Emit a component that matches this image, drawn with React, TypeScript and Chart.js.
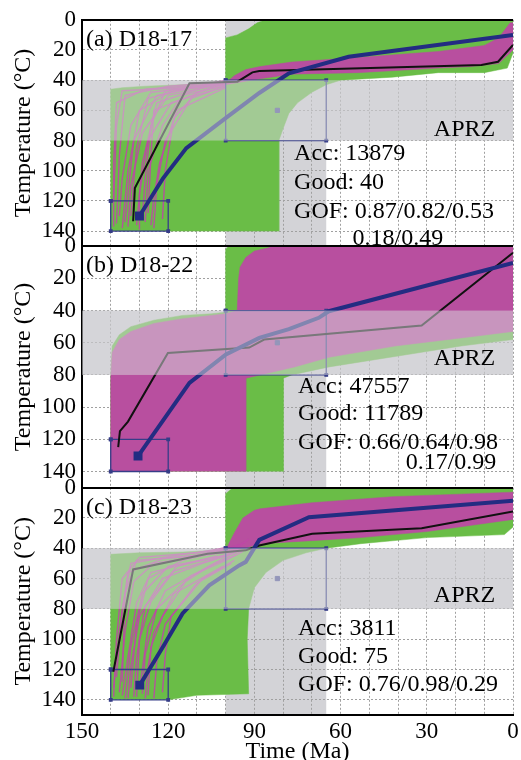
import React, { useEffect, useRef } from 'react';
import { Chart, registerables } from 'chart.js';
Chart.register(...registerables);

type P = [number, number];

// ---- axes / reference values ----
const timeLabels = [150, 120, 90, 60, 30, 0];
const timeGrid = [0, 10, 20, 30, 40, 50, 60, 70, 80, 90, 100, 110, 120, 130, 140, 150];
const tempLabels = [0, 20, 40, 60, 80, 100, 120, 140];
const aprzBand = [40, 80];
const timeWindow = [100, 65];

// ---- constraint boxes ----
const boxLow: P[] = [[140, 120], [120, 120], [120, 140], [140, 140], [140, 120]];
const boxMid: P[] = [[100, 40], [65, 40], [65, 80], [100, 80], [100, 40]];
const boxMidCenter: P[] = [[82, 60]];

// ---- panel (a) D18-17 ----
const greenA: P[] = [[140, 140], [140, 46], [136, 45], [128, 44], [115, 43], [104, 42], [100, 41], [100, 12], [96, 10], [92, 6], [89, 2], [86, 0], [0, 0], [0, 22], [2, 32], [10, 35], [26, 35], [42, 38], [60, 40], [65, 43], [70, 48], [75, 55], [78, 62], [80, 72], [81.5, 80], [81.5, 140], [120, 140]];
const magentaA: P[] = [[100, 42], [97, 37], [93, 33], [88, 31], [77, 28], [54, 25], [26, 21], [10, 17], [5, 12], [1, 2], [0, 2], [0, 20], [5, 29], [15, 31], [26, 32], [54, 35], [77, 36], [88, 39], [100, 43]];
const goodPathsA: P[][] = [
  [[138, 135], [137, 90], [135, 50], [120, 44], [100, 41]],
  [[136, 138], [134, 100], [130, 60], [118, 46], [100, 42]],
  [[133, 130], [131, 85], [127, 52], [110, 44], [100, 40]],
  [[131, 136], [129, 95], [124, 55], [108, 45], [100, 41]],
  [[128, 134], [127, 100], [122, 70], [115, 50], [100, 43]],
  [[125, 138], [124, 110], [121, 80], [112, 52], [100, 44]],
  [[139, 120], [138, 70], [136, 47], [115, 45], [100, 42]],
  [[127, 128], [126, 90], [125, 60], [105, 45], [100, 41]],
  [[134, 137], [133, 110], [129, 75], [120, 50], [100, 42]],
  [[122, 132], [121, 100], [118, 65], [110, 48], [100, 43]],
  [[137, 130], [136, 105], [133, 70], [126, 48], [100, 43]],
  [[130, 139], [130, 115], [127, 80], [119, 55], [100, 44]],
  [[139, 137], [139, 95], [138, 55], [128, 46], [100, 42]],
  [[135, 134], [134, 115], [132, 80], [124, 50], [100, 41]],
  [[129, 131], [128, 105], [126, 70], [121, 47], [100, 42]],
  [[126, 136], [125, 118], [123, 95], [117, 60], [100, 45]],
];
const bestA: P[] = [[132.2, 133.5], [131.6, 111.5], [112.6, 42], [95.9, 41], [90.7, 34.8], [88.3, 34], [11, 30], [5.2, 27.8], [0, 16.7]];
const meanA: P[] = [[130, 130], [121.8, 105], [113.7, 85], [99.9, 65], [88.3, 48.5], [78, 35.5], [57.2, 24.5], [0, 10.1]];

// ---- panel (b) D18-22 ----
const greenB: P[] = [[140, 140], [140, 82], [139.5, 62], [137, 55], [133, 50], [125, 46], [115, 43], [105, 42], [100, 41], [100, 2], [99, 0], [0, 0], [0, 58], [18, 62], [41, 68.5], [64, 75], [77, 80], [80, 82], [80, 140]];
const magentaB: P[] = [[140, 140], [140, 83], [139.5, 66], [137, 58], [133, 53], [125, 48], [115, 45], [105, 43], [100, 42], [96, 40], [95.5, 20], [95, 13], [93, 7], [90, 3], [85, 1], [84, 0], [0, 0], [0, 53], [18, 57], [41, 62], [64, 69], [76, 75], [88, 80], [93, 82], [93, 140]];
const goodPathsB: P[][] = [];
const bestB: P[] = [[137.4, 124.8], [136.8, 114.9], [134, 109], [120.1, 66.3], [91.8, 63], [86.6, 58], [31.8, 49.3], [0, 4.1]];
const meanB: P[] = [[130.5, 130.4], [112.6, 84.9], [99.9, 67.3], [88.3, 57], [78, 51.5], [67.6, 44.5], [64.1, 40.4], [0, 10.4]];

// ---- panel (c) D18-23 ----
const greenC: P[] = [[140, 140], [140, 44], [130, 43], [115, 42.5], [100, 41], [100, 4], [98, 1], [97, 0], [0, 0], [0, 26], [3, 31], [30, 33], [53, 37], [65, 40], [72, 43], [80, 48], [86, 56], [90, 66], [92, 80], [92.5, 100], [92, 136], [110, 137], [120, 140]];
const magentaC: P[] = [[100, 41], [97, 30], [94, 20], [90, 15], [88, 14], [70, 10], [42, 6], [0, 3], [0, 21], [30, 29], [53, 33], [70, 35], [88, 37], [95, 41], [100, 42]];
const goodPathsC: P[][] = [
  [[139, 138], [138, 100], [136, 60], [130, 46], [110, 43], [95, 38]],
  [[137, 135], [135, 95], [132, 62], [125, 50], [105, 44], [93, 36]],
  [[135, 139], [133, 105], [129, 70], [120, 52], [100, 45], [92, 34]],
  [[133, 132], [131, 90], [127, 60], [115, 48], [98, 40]],
  [[131, 138], [130, 100], [126, 75], [118, 55], [102, 46], [95, 40]],
  [[129, 136], [128, 110], [124, 80], [112, 58], [100, 48], [94, 42]],
  [[127, 137], [126, 105], [122, 85], [114, 62], [104, 50], [96, 42]],
  [[138, 125], [136, 80], [133, 50], [115, 44], [97, 40]],
  [[125, 139], [124, 115], [121, 90], [110, 63], [98, 50]],
  [[134, 139], [133, 118], [130, 85], [122, 60], [108, 50], [95, 42]],
  [[136, 128], [135, 70], [131, 48], [112, 45], [96, 39]],
  [[122, 135], [121, 110], [119, 85], [108, 60], [97, 48]],
  [[132, 138], [131, 112], [128, 78], [117, 52], [99, 44]],
  [[139, 132], [137, 95], [134, 56], [122, 47], [100, 43]],
  [[130, 133], [129, 120], [127, 92], [121, 68], [106, 52], [96, 44]],
  [[136, 137], [134, 112], [131, 76], [126, 56], [103, 45]],
  [[128, 139], [127, 118], [125, 96], [118, 70], [101, 52]],
];
const bestC: P[] = [[139.1, 121.5], [132.2, 54], [106.3, 43.6], [93, 41.4], [88.3, 38.2], [69.9, 30.5], [31.8, 26.8], [0, 15.8]];
const meanC: P[] = [[129.9, 130.3], [121.8, 105], [115, 83], [105.7, 64.5], [95.3, 51.3], [93, 49], [88.3, 34.5], [71, 19.5], [0, 8.6]];

// ---- annotations ----
const textsA = [
  { text: '(a) D18-17', t: 148.6, T: 13, align: 'left' },
  { text: 'APRZ', t: 6.2, T: 72.5, align: 'right' },
  { text: 'Acc: 13879', t: 76.2, T: 89, align: 'left' },
  { text: 'Good: 40', t: 76.2, T: 108, align: 'left' },
  { text: 'GOF: 0.87/0.82/0.53', t: 76.2, T: 127, align: 'left' },
  { text: '0.18/0.49', t: 24.3, T: 145, align: 'right' },
];
const textsB = [
  { text: '(b) D18-22', t: 148.6, T: 12.4, align: 'left' },
  { text: 'APRZ', t: 6.2, T: 70, align: 'right' },
  { text: 'Acc: 47557', t: 74.8, T: 87, align: 'left' },
  { text: 'Good: 11789', t: 74.8, T: 104, align: 'left' },
  { text: 'GOF: 0.66/0.64/0.98', t: 74.8, T: 122, align: 'left' },
  { text: '0.17/0.99', t: 5.8, T: 134.6, align: 'right' },
];
const textsC = [
  { text: '(c) D18-23', t: 148.6, T: 13, align: 'left' },
  { text: 'APRZ', t: 6.2, T: 71, align: 'right' },
  { text: 'Acc: 3811', t: 74.8, T: 93, align: 'left' },
  { text: 'Good: 75', t: 74.8, T: 111.6, align: 'left' },
  { text: 'GOF: 0.76/0.98/0.29', t: 74.8, T: 130, align: 'left' },
];

const SERIF = "'Liberation Serif', 'Times New Roman', serif";
const GREEN = '#6abd47';
const MAGENTA = '#b84f9f';
const BAND = '#d3d3d7';
const OVERLAY = 'rgba(214,214,219,0.52)';
const BLUE = '#232c82';
const BOX = '#363d88';

const panels = [
  { id: 'ya', green: greenA, magenta: magentaA, paths: goodPathsA, best: bestA, mean: meanA, texts: textsA },
  { id: 'yb', green: greenB, magenta: magentaB, paths: goodPathsB, best: bestB, mean: meanB, texts: textsB },
  { id: 'yc', green: greenC, magenta: magentaC, paths: goodPathsC, best: bestC, mean: meanC, texts: textsC },
];

const xy = (pts: P[]) => pts.map(([x, y]) => ({ x, y }));

function buildDatasets() {
  const means: any[] = [], bests: any[] = [], boxes: any[] = [], paths: any[] = [], mags: any[] = [], greens: any[] = [];
  panels.forEach((p) => {
    means.push({
      data: xy(p.mean), yAxisID: p.id, borderColor: BLUE, backgroundColor: BLUE, borderWidth: 4,
      pointStyle: 'rect', pointRadius: (c: any) => (c.dataIndex === 0 ? 3.5 : 0), fill: false,
    });
    bests.push({ data: xy(p.best), yAxisID: p.id, borderColor: '#111', borderWidth: 2, pointRadius: 0, fill: false });
    boxes.push({ data: xy(boxMidCenter), yAxisID: p.id, showLine: false, pointStyle: 'rect', pointRadius: 3, pointBackgroundColor: '#4b5096', pointBorderColor: '#4b5096' });
    boxes.push({ data: xy(boxMid), yAxisID: p.id, borderColor: BOX, borderWidth: 1.3, pointStyle: 'rect', pointRadius: 1.8, pointBackgroundColor: BOX, pointBorderColor: BOX, fill: false });
    boxes.push({ data: xy(boxLow), yAxisID: p.id, borderColor: BOX, borderWidth: 1.3, pointStyle: 'rect', pointRadius: 1.8, pointBackgroundColor: BOX, pointBorderColor: BOX, fill: false });
    p.paths.forEach((path) => {
      paths.push({ data: xy(path), yAxisID: p.id, borderColor: 'rgba(188,72,165,0.9)', borderWidth: 1.4, pointRadius: 0, fill: false });
    });
    mags.push({ data: xy(p.magenta), yAxisID: p.id, borderColor: MAGENTA, backgroundColor: MAGENTA, borderWidth: 0.5, pointRadius: 0, fill: 'shape' });
    greens.push({ data: xy(p.green), yAxisID: p.id, borderColor: GREEN, backgroundColor: GREEN, borderWidth: 0.5, pointRadius: 0, fill: 'shape' });
  });
  return [...means, ...bests, ...boxes, ...paths, ...mags, ...greens];
}

const bandsPlugin = {
  id: 'bands',
  beforeDraw(chart: any) {
    const { ctx, chartArea: a, scales } = chart;
    const x = scales.x;
    ctx.save();
    ctx.fillStyle = BAND;
    const x1 = x.getPixelForValue(timeWindow[0]);
    const x2 = x.getPixelForValue(timeWindow[1]);
    ctx.fillRect(x1, a.top, x2 - x1, a.bottom - a.top);
    panels.forEach((p) => {
      const y = scales[p.id];
      const y1 = y.getPixelForValue(aprzBand[0]);
      const y2 = y.getPixelForValue(aprzBand[1]);
      ctx.fillRect(a.left, y1, a.right - a.left, y2 - y1);
    });
    ctx.restore();
  },
  afterDatasetsDraw(chart: any) {
    const { ctx, chartArea: a, scales } = chart;
    ctx.save();
    panels.forEach((p) => {
      const y = scales[p.id];
      const y1 = y.getPixelForValue(aprzBand[0]);
      const y2 = y.getPixelForValue(aprzBand[1]);
      ctx.fillStyle = OVERLAY;
      ctx.fillRect(a.left, y1, a.right - a.left, y2 - y1);
    });
    panels.forEach((p) => {
      const y = scales[p.id];
      ctx.save();
      ctx.beginPath();
      ctx.rect(a.left, y.top, a.right - a.left, y.bottom - y.top);
      ctx.clip();
      ctx.fillStyle = '#000';
      ctx.font = `24px ${SERIF}`;
      ctx.textBaseline = 'middle';
      p.texts.forEach((tx) => {
        ctx.textAlign = tx.align;
        ctx.fillText(tx.text, scales.x.getPixelForValue(tx.t), y.getPixelForValue(tx.T));
      });
      ctx.restore();
    });
    ctx.strokeStyle = '#000';
    ctx.lineWidth = 2;
    panels.forEach((p) => {
      const y0 = Math.round(scales[p.id].getPixelForValue(0));
      ctx.beginPath();
      ctx.moveTo(a.left - 1, y0);
      ctx.lineTo(a.right, y0);
      ctx.stroke();
    });
    ctx.restore();
  },
};

function yScale(weight: number, stackWeight: number) {
  return {
    type: 'linear', position: 'left', stack: 'temp', stackWeight, weight,
    min: 0, max: 150, reverse: true,
    afterBuildTicks: (s: any) => { s.ticks = tempLabels.map((v) => ({ value: v })); },
    afterFit: (s: any) => { s.width = 82; },
    ticks: { font: { family: SERIF, size: 23 }, color: '#000', padding: 6, autoSkip: false },
    grid: {
      color: (c: any) => (c.tick && c.tick.value === 0 ? 'rgba(0,0,0,0)' : '#a0a0a0'),
      lineWidth: 1, drawTicks: false,
    },
    border: { display: true, color: '#000', width: 2, dash: [2, 2] },
    title: {
      display: true, text: 'Temperature (°C)', color: '#000',
      font: { family: SERIF, size: 24, lineHeight: 1 }, padding: { top: 12, bottom: 0 },
    },
  };
}

export default function App() {
  const ref = useRef<HTMLCanvasElement>(null);
  useEffect(() => {
    if (!ref.current) return;
    const chart = new Chart(ref.current, {
      type: 'line',
      data: { datasets: buildDatasets() as any },
      options: {
        responsive: false,
        animation: false,
        devicePixelRatio: 1,
        elements: { line: { tension: 0 } },
        layout: { padding: { top: 18, right: 6, left: 0, bottom: 0 } },
        plugins: { legend: { display: false }, tooltip: { enabled: false } },
        scales: {
          x: {
            type: 'linear', min: 0, max: 150, reverse: true,
            afterBuildTicks: (s: any) => { s.ticks = timeGrid.map((v) => ({ value: v })); },
            afterFit: (s: any) => { s.height = 49; },
            ticks: {
              autoSkip: false, maxRotation: 0, color: '#000', padding: 3,
              font: { family: SERIF, size: 23 },
              callback: (v: any) => (timeLabels.includes(Number(v)) ? String(v) : ''),
            },
            grid: { color: '#a0a0a0', drawTicks: false },
            border: { display: true, color: '#000', width: 2, dash: [2, 2] },
            title: {
              display: true, text: 'Time (Ma)', color: '#000',
              font: { family: SERIF, size: 24, lineHeight: 1 }, padding: { top: 0, bottom: 0 },
            },
          },
          ya: yScale(3, 227),
          yb: yScale(2, 242),
          yc: yScale(1, 228),
        } as any,
      },
      plugins: [bandsPlugin as any],
    });
    return () => chart.destroy();
  }, []);
  return (
    <div style={{ position: 'absolute', left: 0, top: 0, width: 521, height: 760, overflow: 'hidden', background: '#fff' }}>
      <canvas ref={ref} width={521} height={764} style={{ display: 'block' }} />
    </div>
  );
}
